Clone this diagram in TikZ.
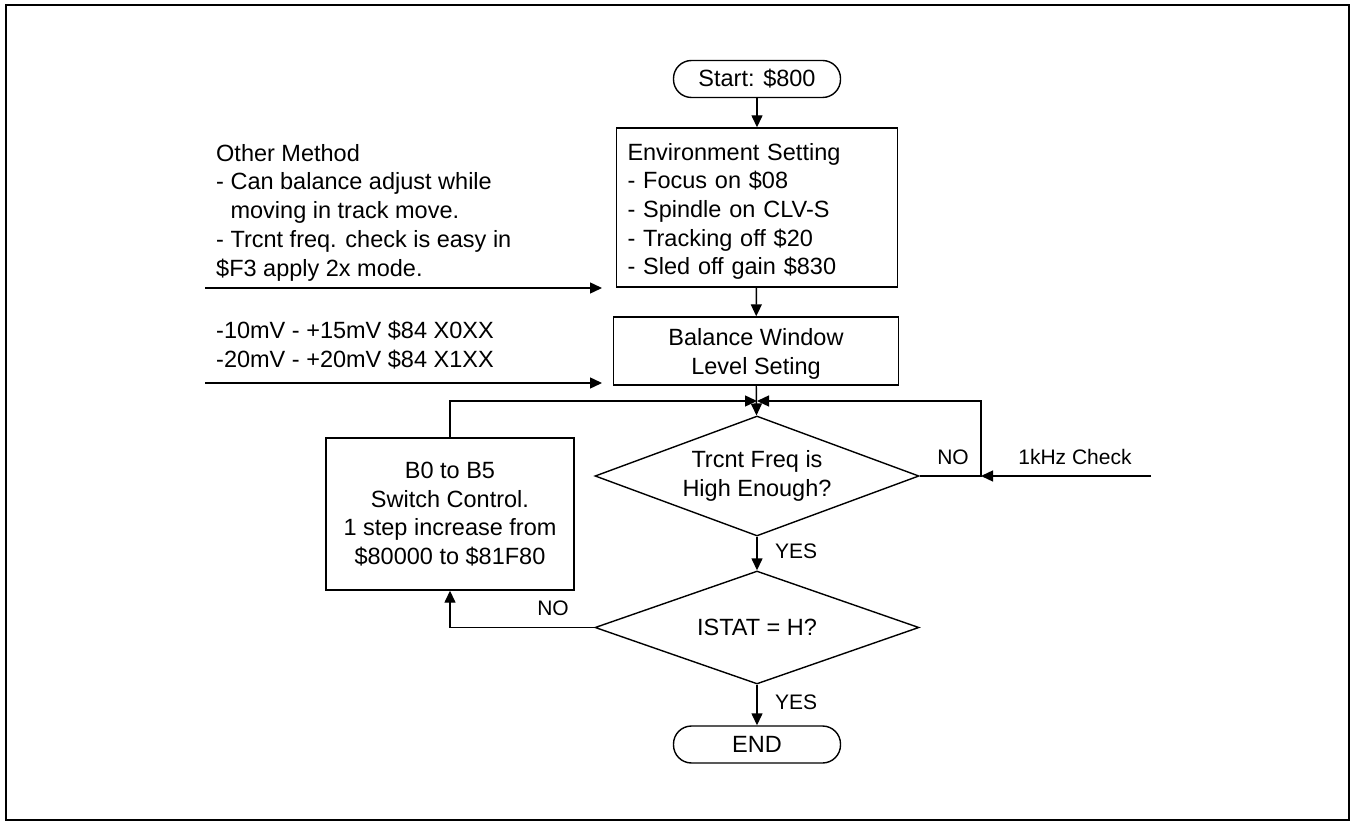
\documentclass[tikz,border=0pt]{standalone}
\usepackage{fontspec}
\setmainfont{Liberation Sans}
\usetikzlibrary{arrows.meta,shapes.geometric}
\begin{document}
\begin{tikzpicture}[x=1pt,y=-1pt,
 every node/.style={font=\fontsize{23.5}{28.7}\selectfont, inner sep=0pt},
 box/.style={draw, line width=1.4pt, rectangle},
 term/.style={draw, line width=1.4pt, rectangle, rounded corners=18pt, minimum width=167pt, minimum height=37pt},
 dec/.style={draw, line width=1.4pt, diamond, shape aspect=2.7, minimum width=324pt},
 conn/.style={line width=1.4pt},
 arr/.style={conn, -{Triangle[length=12pt,width=11pt]}},
 lbl/.style={font=\fontsize{21}{25}\selectfont}]
\useasboundingbox (0,0) rectangle (1355,826);
\draw[line width=2pt] (6,5) rectangle (1349,820);

\node[term] (start) at (757,79) {Start: \$800};
\node[box, minimum height=159pt, text width=259pt, align=left, inner xsep=11pt] (env) at (757,207.5)
  {\rule{0pt}{25pt}Environment Setting\\- Focus on \$08\\- Spindle on CLV-S\\- Tracking off \$20\\- Sled off gain \$830};
\node[box, minimum width=285pt, minimum height=68pt, align=center] (bal) at (756,351)
  {\rule{0pt}{23pt}Balance Window\\Level Seting};
\node[dec, minimum height=120pt, align=center] (d1) at (757,476) {Trcnt Freq is\\High Enough?};
\node[dec, minimum height=113pt] (d2) at (757,627.5) {ISTAT = H?};
\node[term] (end) at (757,744.5) {END};
\node[box, minimum width=248pt, minimum height=152pt, align=center] (sw) at (450,514)
  {B0 to B5\\Switch Control.\\1 step increase from\\\$80000 to \$81F80};

\node[align=left, anchor=north west] (om) at (216,144)
  {Other Method\\- Can balance adjust while\\\hspace*{14.4pt}moving in track move.\\- Trcnt freq. check is easy in\\\$F3 apply 2x mode.};
\node[align=left, anchor=north west] (lv) at (216,321)
  {-10mV - +15mV \$84 X0XX\\-20mV - +20mV \$84 X1XX};

\coordinate (a1s) at (205,288); \coordinate (a1e) at (602,288);
\coordinate (a2s) at (205,383); \coordinate (a2e) at (602,383);
\coordinate (m) at (757,401);
\coordinate (rc) at (981,476);
\coordinate (k) at (1151,476);

\draw[arr] (start) -- (env);
\draw[arr] (env) -- (bal);
\draw[arr] (bal) -- (d1);
\draw[arr] (sw.north) |- (m);
\draw[arr] (d1.east) -- (rc) |- (m);
\draw[arr] (k) -- (rc);
\draw[arr] (d1) -- (d2);
\draw[arr] (d2) -- (end);
\draw[arr] (d2.west) -| (sw.south);
\draw[arr] (a1s) -- (a1e);
\draw[arr] (a2s) -- (a2e);

\node[lbl, anchor=west] (y1) at (775,551) {YES};
\node[lbl, anchor=west] (y2) at (775,702) {YES};
\node[lbl] (n1) at (953,457) {NO};
\node[lbl] (n2) at (553,608) {NO};
\node[lbl] (kc) at (1075,457) {1kHz Check};
\end{tikzpicture}
\end{document}
